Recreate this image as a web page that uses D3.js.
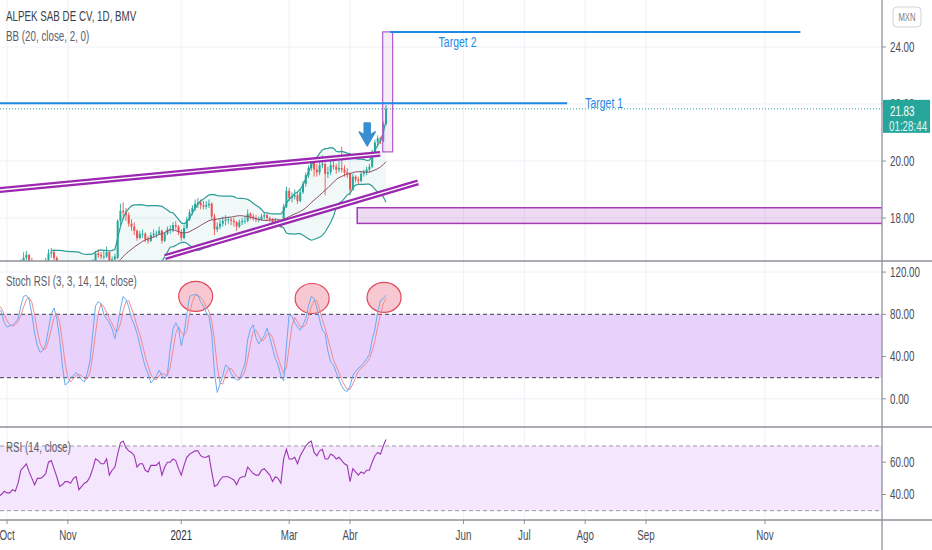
<!DOCTYPE html>
<html>
<head>
<meta charset="utf-8">
<script src="https://cdn.jsdelivr.net/npm/d3@7"></script>
<style>
  body { margin: 0; background: #fff; overflow: hidden; }
  text { font-family: "Liberation Sans", Arial, sans-serif; }
</style>
</head>
<body>
<script>
// daily candles [open, high, low, close], one per trading day from late Sep 2020
const candles = [
  [15.85,16.0,15.8,15.9],[15.9,16.05,15.85,15.95],[15.95,16.1,15.9,16.0],[16.0,16.05,15.85,15.95],
  [15.95,16.05,15.9,15.95],[15.95,16.1,15.9,16.0],[16.0,16.1,15.9,16.0],[16.0,16.25,15.95,16.15],
  [16.15,16.55,16.1,16.45],[16.45,16.8,16.4,16.6],[16.6,16.85,16.5,16.7],[16.7,16.75,16.4,16.5],
  [16.5,16.6,16.2,16.3],[16.3,16.35,16.0,16.1],[16.1,16.4,16.05,16.3],[16.3,16.45,16.2,16.3],
  [16.3,16.5,16.25,16.35],[16.35,16.6,16.3,16.45],[16.45,16.9,16.4,16.75],[16.75,16.95,16.6,16.8],
  [16.8,16.85,16.5,16.6],[16.6,16.65,16.3,16.35],[16.35,16.4,16.0,16.05],[16.05,16.2,15.95,16.1],
  [16.1,16.25,16.0,16.15],[16.15,16.3,16.05,16.15],[16.15,16.2,16.0,16.1],[16.1,16.3,16.05,16.2],
  [16.2,16.35,16.1,16.25],[16.25,16.3,15.85,15.9],[15.9,16.1,15.85,16.0],[16.0,16.15,15.95,16.1],
  [16.1,16.25,16.0,16.15],[16.15,16.35,16.1,16.25],[16.25,16.55,16.2,16.45],[16.45,16.85,16.4,16.75],
  [16.75,16.9,16.6,16.7],[16.7,16.8,16.55,16.65],[16.65,16.85,16.55,16.65],[16.65,17.0,16.6,16.8],
  [16.8,16.85,16.4,16.45],[16.45,16.65,16.4,16.55],[16.55,16.75,16.45,16.65],[16.6,17.95,16.55,17.9],
  [17.9,18.5,17.75,18.25],[18.25,18.55,17.95,18.2],[18.2,18.35,17.9,18.1],[18.1,18.2,17.7,17.8],
  [17.8,17.95,17.55,17.7],[17.7,17.85,17.4,17.55],[17.55,17.6,17.2,17.3],[17.3,17.55,17.25,17.45],
  [17.45,17.6,17.3,17.45],[17.45,17.5,17.15,17.25],[17.25,17.35,17.1,17.2],[17.2,17.5,17.15,17.4],
  [17.4,17.6,17.3,17.45],[17.45,17.55,17.3,17.45],[17.45,17.7,17.4,17.55],[17.55,17.6,17.1,17.2],
  [17.2,17.5,17.15,17.45],[17.45,17.7,17.4,17.6],[17.6,17.75,17.45,17.6],[17.6,17.85,17.5,17.75],
  [17.75,17.9,17.6,17.7],[17.7,17.75,17.4,17.5],[17.5,17.6,17.2,17.3],[17.3,17.75,17.25,17.65],
  [17.65,18.05,17.6,17.95],[17.95,18.3,17.9,18.2],[18.2,18.45,18.1,18.35],[18.35,18.65,18.25,18.5],
  [18.5,18.7,18.35,18.55],[18.55,18.65,18.3,18.45],[18.45,18.6,18.3,18.4],[18.4,18.6,18.3,18.45],
  [18.45,18.65,18.35,18.5],[18.5,18.55,17.95,18.05],[18.05,18.15,17.4,17.6],[17.6,17.85,17.5,17.7],
  [17.7,17.95,17.6,17.8],[17.8,18.05,17.7,17.9],[17.9,18.1,17.75,17.95],[17.95,18.05,17.8,17.95],
  [17.95,18.0,17.75,17.9],[17.9,18.0,17.7,17.85],[17.85,17.9,17.55,17.7],[17.7,17.95,17.65,17.85],
  [17.85,18.0,17.75,17.9],[17.9,18.05,17.8,17.9],[17.9,18.3,17.85,18.15],[18.15,18.2,17.95,18.05],
  [18.05,18.15,17.9,18.0],[18.0,18.1,17.85,17.95],[17.95,18.05,17.85,17.95],[17.95,18.15,17.9,18.05],
  [18.05,18.2,17.95,18.1],[18.1,18.15,17.9,18.0],[18.0,18.05,17.85,17.95],[17.95,18.0,17.7,17.8],
  [17.8,18.0,17.75,17.9],[17.9,17.95,17.75,17.85],[17.85,17.9,17.65,17.75],[17.8,18.5,17.75,18.4],
  [18.4,19.1,18.35,18.95],[18.95,19.05,18.6,18.7],[18.7,18.9,18.55,18.75],[18.75,19.0,18.65,18.8],
  [18.8,18.9,18.5,18.6],[18.6,19.0,18.55,18.9],[18.9,19.3,18.85,19.2],[19.2,19.6,19.1,19.5],
  [19.5,19.85,19.4,19.75],[19.75,20.1,19.65,19.95],[19.95,20.05,19.45,19.7],[19.7,19.9,19.45,19.6],
  [19.6,20.0,19.5,19.85],[19.85,20.2,19.75,19.9],[19.9,19.95,18.8,19.55],[19.55,19.8,19.4,19.6],
  [19.6,20.0,19.5,19.85],[19.85,20.05,19.7,19.8],[19.8,19.9,19.55,19.7],[19.7,20.0,19.6,19.75],
  [19.75,20.5,19.6,19.7],[19.7,19.85,19.45,19.6],[19.6,19.75,19.4,19.55],[19.55,19.6,18.8,19.0],
  [19.0,19.55,18.95,19.45],[19.45,19.5,19.25,19.35],[19.35,19.45,19.2,19.3],[19.3,19.65,19.25,19.55],
  [19.55,19.7,19.45,19.6],[19.6,19.8,19.5,19.7],[19.7,19.9,19.6,19.8],[19.8,20.4,19.75,20.3],
  [20.3,20.75,20.2,20.65],[20.65,20.9,20.5,20.8],[20.8,20.85,20.6,20.7],[20.7,21.4,20.65,21.3],
  [21.3,21.96,21.25,21.83]
];

const stochK = [86,82,72,68,69,70,72,76,88,97,98,94,80,62,50,44,46,52,66,80,86,76,58,32,13,15,20,22,25,22,
  18,16,24,36,62,88,92,90,80,76,72,66,57,70,85,97,94,87,76,70,62,51,40,30,24,15,18,22,27,22,
  19,24,48,66,72,67,50,62,80,97,98,99,98,92,88,82,78,62,24,6,14,22,32,30,24,20,18,18,26,33,
  56,66,70,58,52,56,60,67,58,48,38,32,22,17,50,80,78,72,68,65,70,76,88,97,95,86,75,65,62,45,
  35,32,25,18,12,8,7,12,22,26,29,31,34,38,42,56,66,82,93,95,98];
const stochD = [88,86,80,74,70,69,70,73,79,87,94,96,91,79,64,52,47,47,55,66,77,81,73,55,34,20,16,19,22,23,
  22,19,19,25,41,62,81,90,87,82,76,71,65,64,71,84,92,93,86,78,69,61,51,40,31,23,19,18,22,24,
  23,22,30,46,62,68,63,60,64,80,92,98,98,96,93,87,83,74,55,31,15,14,23,28,29,25,21,19,21,26,
  38,52,64,65,60,55,56,61,62,58,48,39,31,24,30,49,69,77,73,68,68,70,78,87,93,93,85,75,67,57,
  47,37,31,25,18,13,9,9,14,20,26,29,31,34,38,45,55,68,80,90,95];
const rsi = [39,40,42,41,41,43,42,47,55,57,59,54,50,46,50,50,51,53,60,61,56,51,45,46,48,48,47,50,51,43,
  45,47,48,51,56,62,61,59,59,62,52,55,57,65,72,73,69,67,66,64,57,59,59,55,54,58,58,58,60,52,
  57,60,60,62,61,56,52,58,63,65,66,67,67,64,63,63,64,54,45,46,49,51,51,51,50,49,46,50,51,51,
  57,55,53,52,52,55,56,54,52,48,51,50,47,62,68,62,62,63,59,64,67,70,72,73,66,64,67,68,62,62,
  65,64,62,63,61,59,58,48,56,54,52,54,53,55,55,60,64,66,65,70,74];

const priceTicks = [18, 20, 22, 24];
const stochTicks = [0, 40, 80, 120];
const rsiTicks = [40, 60];
const monthLabels = ["Oct", "Nov", "2021", "Mar", "Abr", "Jun", "Jul", "Ago", "Sep", "Nov"];
const monthBars = [3, 25, 66, 105, 127, 168, 190, 212, 234, 277];

// drawings, in bar index / price units
const targets = [
  { name: "Target 1", price: 22.03, from: 0, to: 205.5, labelBar: 212, labelPrice: 22.03 },
  { name: "Target 2", price: 24.53, from: 141.5, to: 289.8, labelBar: 159, labelPrice: 24.2 }
];
const trendLines = [[0, 18.98, 137.9, 20.25], [60.1, 16.63, 151.6, 19.25]];
const boxes = [[138.8, 142.4, 24.53, 20.32], [129.6, 330, 18.36, 17.81]];
const arrowMark = { bar: 133.2, top: 21.33, tip: 20.53 };
const stochCircles = [[71.2, 97], [113.3, 95], [139.3, 96]];
const lastPrice = 21.83, countdown = "01:28:44";

const W = 932, H = 550, axisX = 882;
const x = d3.scaleLinear().domain([3, 277]).range([7, 765]);
const yP = d3.scaleLinear().domain([18, 24]).range([218, 47]);
const yS = d3.scaleLinear().domain([0, 100]).range([398.8, 293.2]);
const yR = d3.scaleLinear().domain([30, 70]).range([510.7, 446]);

const green = "#26a69a", red = "#ef5350", gridC = "#eef1f8", sepC = "#8f929b", txtC = "#4a4d57";
const SX = 0.7; // TradingView's narrow glyphs

const svg = d3.select("body").append("svg").attr("width", W).attr("height", H);
const defs = svg.append("defs");
[["clipMain", 0, 261], ["clipStoch", 262, 427], ["clipRsi", 428, 519]].forEach(([id, a, b]) => {
  defs.append("clipPath").attr("id", id).append("rect").attr("x", 0).attr("y", a).attr("width", axisX).attr("height", b - a);
});

// narrow text helper
function label(g, str, tx, ty, size, color, anchor) {
  return g.append("text")
    .attr("transform", `translate(${tx},${ty}) scale(${SX},1)`)
    .attr("dy", "0.35em").attr("font-size", size).attr("fill", color)
    .attr("text-anchor", anchor || "start").text(str);
}

// vertical grid
svg.append("g").selectAll("line").data(monthBars).join("line")
  .attr("x1", d => x(d)).attr("x2", d => x(d)).attr("y1", 0).attr("y2", 519)
  .attr("stroke", gridC);

// horizontal grid
const hgrid = (ticks, y) => svg.append("g").selectAll("line").data(ticks).join("line")
  .attr("x1", 0).attr("x2", axisX).attr("y1", d => y(d)).attr("y2", d => y(d)).attr("stroke", gridC);
hgrid(priceTicks, yP); hgrid(stochTicks, yS); hgrid(rsiTicks, yR);

// ---------- main pane ----------
const main = svg.append("g").attr("clip-path", "url(#clipMain)");

// Bollinger bands (20, 2) on the closes
const closes = candles.map(d => d[3]);
const bb = [];
closes.forEach((c, i) => {
  if (i < 19) return;
  const win = closes.slice(i - 19, i + 1);
  const m = d3.mean(win);
  const sd = Math.sqrt(d3.mean(win, v => (v - m) * (v - m)));
  bb.push({ i, m, up: m + 2 * sd, lo: m - 2 * sd });
});
main.append("path").datum(bb)
  .attr("d", d3.area().x(d => x(d.i)).y0(d => yP(d.lo)).y1(d => yP(d.up)))
  .attr("fill", "rgba(38,166,154,0.07)");

// lower box sits behind candles
main.append("rect").datum(boxes[1])
  .attr("x", d => x(d[0])).attr("y", d => yP(d[2]))
  .attr("width", d => x(d[1]) - x(d[0])).attr("height", d => yP(d[3]) - yP(d[2]))
  .attr("fill", "rgba(171,71,188,0.2)").attr("stroke", "#a43bb5").attr("stroke-width", 1.5);

const cg = main.append("g");
candles.forEach((d, i) => {
  const col = d[3] >= d[0] ? green : red;
  cg.append("line").attr("x1", x(i)).attr("x2", x(i)).attr("y1", yP(d[1])).attr("y2", yP(d[2]))
    .attr("stroke", col).attr("stroke-width", 0.9);
  const top = yP(Math.max(d[0], d[3])), bot = yP(Math.min(d[0], d[3]));
  cg.append("rect").attr("x", x(i) - 1).attr("width", 2).attr("y", top).attr("height", Math.max(0.8, bot - top))
    .attr("fill", col);
});

main.append("path").datum(bb).attr("fill", "none").attr("stroke", "#8d4d63").attr("stroke-width", 1)
  .attr("d", d3.line().x(d => x(d.i)).y(d => yP(d.m)));
["up", "lo"].forEach(k => {
  main.append("path").datum(bb).attr("fill", "none").attr("stroke", "#2a9d96").attr("stroke-width", 1.2)
    .attr("d", d3.line().x(d => x(d.i)).y(d => yP(d[k])));
});

// channel lines: purple pair
trendLines.forEach(t => {
  main.append("line").attr("x1", x(t[0])).attr("y1", yP(t[1])).attr("x2", x(t[2])).attr("y2", yP(t[3]))
    .attr("stroke", "#9c27b0").attr("stroke-width", 6);
  main.append("line").attr("x1", x(t[0])).attr("y1", yP(t[1])).attr("x2", x(t[2])).attr("y2", yP(t[3]))
    .attr("stroke", "#fff").attr("stroke-width", 1.4);
});

// tall box
main.append("rect").datum(boxes[0])
  .attr("x", d => x(d[0])).attr("y", d => yP(d[2]))
  .attr("width", d => x(d[1]) - x(d[0])).attr("height", d => yP(d[3]) - yP(d[2]))
  .attr("fill", "rgba(186,104,200,0.12)").attr("stroke", "#b25cc6").attr("stroke-width", 1.2);

// targets
targets.forEach(t => {
  main.append("line").attr("x1", x(t.from)).attr("x2", x(t.to)).attr("y1", yP(t.price)).attr("y2", yP(t.price))
    .attr("stroke", "#1e88e5").attr("stroke-width", 2);
  label(main, t.name, x(t.labelBar), yP(t.labelPrice), 15, "#1e88e5");
});

// blue arrow
{
  const cx = x(arrowMark.bar), y0 = yP(arrowMark.top), y1 = yP(arrowMark.tip);
  const hy = y1 - 11;
  main.append("path")
    .attr("d", `M${cx - 3},${y0} L${cx + 3},${y0} L${cx + 3},${hy} L${cx + 8},${hy - 3} L${cx},${y1} L${cx - 8},${hy - 3} L${cx - 3},${hy} Z`)
    .attr("fill", "#3a8fd0").attr("stroke", "#3a8fd0").attr("stroke-linejoin", "round").attr("stroke-width", 1.5);
}

// last price dotted line
main.append("line").attr("x1", 0).attr("x2", axisX).attr("y1", yP(lastPrice)).attr("y2", yP(lastPrice))
  .attr("stroke", green).attr("stroke-dasharray", "1,2");

// ---------- stoch RSI pane ----------
const st = svg.append("g").attr("clip-path", "url(#clipStoch)");
st.append("rect").attr("x", 0).attr("width", axisX).attr("y", yS(80)).attr("height", yS(20) - yS(80))
  .attr("fill", "#e8d1fb");
stochCircles.forEach(c => {
  st.append("ellipse").attr("cx", x(c[0])).attr("cy", yS(c[1])).attr("rx", 17).attr("ry", 15)
    .attr("fill", "#f8c8d2").attr("stroke", "#e0485a").attr("stroke-width", 1.2);
});
[80, 20].forEach(v => st.append("line").attr("x1", 0).attr("x2", axisX).attr("y1", yS(v)).attr("y2", yS(v))
  .attr("stroke", "#5d606b").attr("stroke-width", 1.2).attr("stroke-dasharray", "4,3"));
st.append("path").datum(stochD).attr("fill", "none").attr("stroke", "#f28a90").attr("stroke-width", 1)
  .attr("d", d3.line().x((d, i) => x(i)).y(d => yS(d)));
st.append("path").datum(stochK).attr("fill", "none").attr("stroke", "#6aaaf0").attr("stroke-width", 1)
  .attr("d", d3.line().x((d, i) => x(i)).y(d => yS(d)));

// ---------- RSI pane ----------
const rp = svg.append("g").attr("clip-path", "url(#clipRsi)");
rp.append("rect").attr("x", 0).attr("width", axisX).attr("y", yR(70)).attr("height", yR(30) - yR(70))
  .attr("fill", "#f4e6fc");
[70, 30].forEach(v => rp.append("line").attr("x1", 0).attr("x2", axisX).attr("y1", yR(v)).attr("y2", yR(v))
  .attr("stroke", "#9598a1").attr("stroke-dasharray", "4,3"));
rp.append("path").datum(rsi).attr("fill", "none").attr("stroke", "#9c35b4").attr("stroke-width", 1.1)
  .attr("d", d3.line().x((d, i) => x(i)).y(d => yR(d)));

// ---------- frames, separators ----------
[261, 427, 520].forEach(y => svg.append("line").attr("x1", 0).attr("x2", W).attr("y1", y).attr("y2", y)
  .attr("stroke", sepC).attr("stroke-width", 1.3));
svg.append("line").attr("x1", axisX).attr("x2", axisX).attr("y1", 0).attr("y2", H).attr("stroke", sepC).attr("stroke-width", 1.3);

// right axes
const rAxis = (ticks, y) => {
  const g = svg.append("g");
  g.selectAll("line").data(ticks).join("line").attr("x1", axisX).attr("x2", axisX + 4)
    .attr("y1", d => y(d)).attr("y2", d => y(d)).attr("stroke", sepC);
  ticks.forEach(d => label(g, d3.format(".2f")(d), axisX + 8, y(d), 14, txtC));
};
rAxis(priceTicks, yP); rAxis(stochTicks, yS); rAxis(rsiTicks, yR);

// last price tag
{
  const yy = yP(lastPrice);
  const g = svg.append("g");
  g.append("rect").attr("x", axisX + 1).attr("y", yy - 9).attr("width", 47).attr("height", 33).attr("fill", green);
  label(g, d3.format(".2f")(lastPrice), axisX + 8, yy + 2, 14, "#fff");
  label(g, countdown, axisX + 7, yy + 17, 14, "#e3f4f1");
}

// MXN badge
svg.append("rect").attr("x", 893).attr("y", 7).attr("width", 28).attr("height", 20).attr("rx", 4)
  .attr("fill", "#fff").attr("stroke", "#d1d4dc");
label(svg, "MXN", 907, 17, 11, "#787b86", "middle");

// time axis
const tg = svg.append("g");
tg.selectAll("line").data(monthBars).join("line").attr("x1", d => x(d)).attr("x2", d => x(d))
  .attr("y1", 520).attr("y2", 524).attr("stroke", sepC);
monthLabels.forEach((d, i) => label(tg, d, x(monthBars[i]), 535, 14, d === "2021" ? "#2a2e39" : txtC, "middle"));

// pane titles
label(svg, "ALPEK SAB DE CV, 1D, BMV", 6, 16, 14, "#3c3f4a");
label(svg, "BB (20, close, 2, 0)", 6, 36, 14, "#5d606b");
label(svg, "Stoch RSI (3, 3, 14, 14, close)", 6, 281, 14, "#5d606b");
label(svg, "RSI (14, close)", 6, 447, 14, "#5d606b");
</script>
</body>
</html>
